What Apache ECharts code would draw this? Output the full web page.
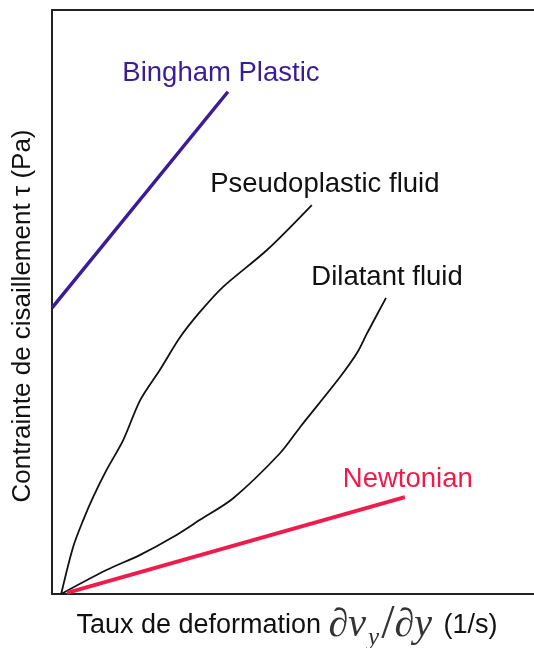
<!DOCTYPE html>
<html>
<head>
<meta charset="utf-8">
<script src="https://cdn.jsdelivr.net/npm/echarts@6/dist/echarts.min.js"></script>
<style>html,body{margin:0;padding:0;background:#fff;}#c{width:534px;height:648px;}</style>
</head>
<body>
<div id="c"></div>
<script>
// Shear rate (x) and shear stress (y), arbitrary units 0..100
const binghamX = [0, 36.5];
const binghamY = [49.0, 86.0];
const newtonX = [3.1, 73.2];
const newtonY = [0.2, 16.6];
const pseudoX = [1.9, 4.4, 6.5, 8.6, 11.3, 14.8, 18.3, 22.4, 26.6, 30.7, 35.5, 44.6, 53.9];
const pseudoY = [0, 8.1, 12.7, 16.7, 21.2, 26.4, 33.2, 38.4, 44.0, 48.3, 52.6, 58.9, 66.6];
const dilatX = [1.9, 11.3, 18.3, 25.2, 30.7, 37.6, 47.3, 51.5, 59.8, 63.3, 65.4, 69.3];
const dilatY = [0, 4.1, 6.7, 9.8, 12.7, 16.4, 24.1, 28.6, 37.2, 41.3, 44.7, 50.7];
const seriesNames = ['Bingham Plastic', 'Pseudoplastic fluid', 'Dilatant fluid', 'Newtonian'];

const zip = (xs, ys) => xs.map((x, i) => [x, ys[i]]);
const sans = 'Liberation Sans, Arial, sans-serif';
const serif = 'Liberation Serif, Times New Roman, serif';

function lineSeries(name, xs, ys, color, width, smooth, labelColor, offset) {
  return {
    type: 'line', name: name, data: zip(xs, ys), showSymbol: false, symbol: 'none',
    smooth: smooth, lineStyle: { color: color, width: width }, silent: true,
    endLabel: {
      show: true, formatter: name, color: labelColor, fontSize: 27.5, fontFamily: sans,
      align: 'center', verticalAlign: 'middle', distance: 0, offset: offset
    }
  };
}

const chart = echarts.init(document.getElementById('c'), null, { renderer: 'canvas' });
chart.setOption({
  animation: false,
  backgroundColor: '#fff',
  grid: { left: 52, top: 10, right: 0, bottom: 54, containLabel: false, outerBoundsMode: 'none' },
  xAxis: [{
    type: 'value', min: 0, max: 100, position: 'bottom',
    axisLine: { lineStyle: { color: '#222', width: 2 } },
    axisTick: { show: false }, axisLabel: { show: false }, splitLine: { show: false },
    name: '{a|Taux de deformation }{m|∂v}{s|y}{sl|/}{m|∂y}{b| (1/s)}',
    nameLocation: 'middle', nameGap: 6,
    nameTextStyle: {
      padding: [0, 12, 0, 0],
      rich: {
        a: { fontSize: 27, fontFamily: sans, color: '#111' },
        m: { fontSize: 40, fontFamily: serif, fontStyle: 'italic', color: '#333' },
        s: { fontSize: 25, fontFamily: serif, fontStyle: 'italic', color: '#333', padding: [26, 2, 0, 2] },
        sl: { fontSize: 48, fontFamily: serif, color: '#333' },
        b: { fontSize: 27, fontFamily: sans, color: '#111', padding: [0, 0, 0, 4] }
      }
    }
  }, {
    type: 'value', min: 0, max: 100, position: 'top',
    axisLine: { show: true, lineStyle: { color: '#222', width: 2 } },
    axisTick: { show: false }, axisLabel: { show: false }, splitLine: { show: false }
  }],
  yAxis: {
    type: 'value', min: 0, max: 100,
    axisLine: { show: true, lineStyle: { color: '#222', width: 2 } },
    axisTick: { show: false }, axisLabel: { show: false }, splitLine: { show: false },
    name: 'Contrainte de cisaillement τ (Pa)', nameLocation: 'middle', nameGap: 16,
    nameTextStyle: { fontSize: 26, fontFamily: sans, color: '#111', padding: [0, 28, 0, 0] }
  },
  series: [
    lineSeries(seriesNames[0], binghamX, binghamY, '#3B1C98', 3.5, false, '#3B1C98', [-7, -18]),
    lineSeries(seriesNames[1], pseudoX, pseudoY, '#111', 1.8, 0.3, '#111', [13, -21]),
    lineSeries(seriesNames[2], dilatX, dilatY, '#111', 1.8, 0.3, '#111', [1, -20]),
    lineSeries(seriesNames[3], newtonX, newtonY, '#F01B4A', 4, false, '#F01B4A', [3, -18])
  ]
});
</script>
</body>
</html>
